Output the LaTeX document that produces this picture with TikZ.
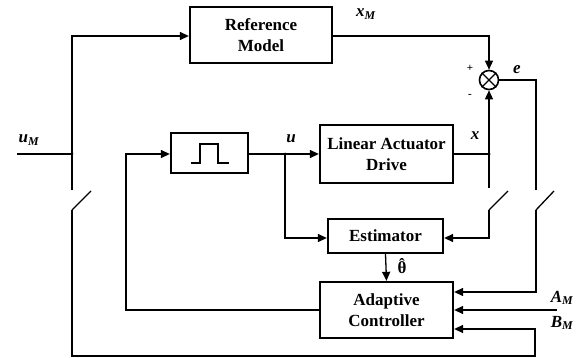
\documentclass[tikz,border=0pt]{standalone}
\usepackage{fontspec}
\setmainfont{Liberation Serif}
\usetikzlibrary{arrows.meta}
\newcommand{\thetahat}{\setbox0\hbox{θ}\rlap{\raise 0.22em\hbox to\wd0{\hss\char"02C6\hss}}\box0}
\begin{document}
\begin{tikzpicture}[x=1pt,y=-1pt,
  blk/.style={draw, line width=2.3pt, minimum width=#1, inner sep=0pt, align=center, font=\fontsize{17}{20.5}\selectfont\bfseries},
  ln/.style={line width=1.3pt},
  arr/.style={line width=1.3pt, -{Triangle[length=9pt,width=8pt]}},
  lab/.style={font=\fontsize{17}{20}\selectfont\bfseries\itshape, inner sep=0pt},
  dot/.style={circle, fill, inner sep=0pt, minimum size=3pt}
]
\useasboundingbox (0,0) rectangle (576,358);
% blocks
\node[blk=142pt, minimum height=56pt] (refm) at (261,35) {Reference\\Model};
\node[blk=77pt, minimum height=40pt] (pulse) at (209.5,153) {};
\node[blk=133pt, minimum height=58pt] (lad) at (386.5,154) {Linear Actuator\\Drive};
\node[blk=115pt, minimum height=34pt] (est) at (385.5,236) {Estimator};
\node[blk=133pt, minimum height=56pt] (ac) at (386.5,310) {Adaptive\\Controller};
\node[draw, circle, line width=1.6pt, minimum size=19pt, inner sep=0pt] (sum) at (489,80) {};
\draw[line width=1.3pt] (sum.north west) -- (sum.south east) (sum.north east) -- (sum.south west);
% pulse symbol
\draw[line width=1.3pt] (191,163) -- (200,163) -- (200,144) -- (218,144) -- (218,163) -- (229,163);
% coordinates
\coordinate (uin) at (17,154);
\coordinate (j1) at (72,154);
\coordinate (j2) at (285,154);
\coordinate (j3) at (489,154);
\coordinate (s1t) at (72,190);
\coordinate (s1b) at (72,210);
\coordinate (s1e) at (91,191);
\coordinate (s2t) at (489,188);
\coordinate (s2b) at (489,210);
\coordinate (s2e) at (508,191);
\coordinate (s3t) at (536,190);
\coordinate (s3b) at (536,210);
\coordinate (s3e) at (554,191);
\coordinate (am) at (557,310);
% connectors
\draw[ln] (uin) -- (j1) -- (s1t);
\draw[arr] (j1) |- (refm.west |- 0,36);
\draw[ln] (s1b) -- (s1e);
\draw[arr] (s1b) -- (72,356) -- (535,356) -- (535,329) -- (ac.east |- 0,329);
\draw[arr] (ac.west) -| (126,154) -- (pulse.west |- 0,154);
\draw[arr] (pulse.east |- 0,154) -- (lad.west);
\draw[arr] (j2) |- (est.west |- 0,238);
\draw[arr] (lad.east) -- (j3) -- (sum.south);
\draw[ln] (j3) -- (s2t);
\draw[ln] (s2b) -- (s2e);
\draw[arr] (s2b) |- (est.east |- 0,238);
\draw[arr] (refm.east |- 0,36) -| (sum.north);
\draw[ln] (sum.east) -| (s3t);
\draw[ln] (s3b) -- (s3e);
\draw[arr] (s3b) |- (ac.east |- 0,292);
\draw[arr] (am) -- (ac.east);
\draw[arr] (est.south) -- (ac.north);
% junction dots
\node[dot] at (j1) {};
\node[dot] at (j2) {};
\node[dot] at (j3) {};
% labels
\node[lab] at (29,140) {u\textsubscript{M}};
\node[lab] at (366,14) {x\textsubscript{M}};
\node[lab] at (291,139) {u};
\node[lab] at (475,136) {x};
\node[lab] at (517,70) {e};
\node[font=\fontsize{11}{11}\selectfont\bfseries, inner sep=0pt] at (470,68) {+};
\node[font=\fontsize{11}{11}\selectfont\bfseries, inner sep=0pt] at (470,96) {-};
\node[font=\fontsize{17}{20}\selectfont\bfseries, inner sep=0pt] at (402,266) {\thetahat};
\node[lab] at (562,298) {A\textsubscript{M}};
\node[lab] at (562,323) {B\textsubscript{M}};
\end{tikzpicture}
\end{document}
